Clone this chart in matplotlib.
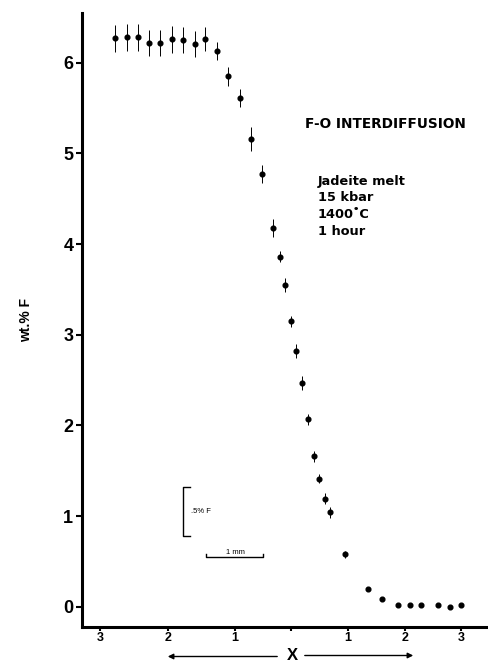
import numpy as np
import matplotlib
matplotlib.use("Agg")
from matplotlib import pyplot as plt

plt.rcParams['font.family'] = ['Liberation Sans', 'DejaVu Sans']

# distance from interface (mm)
x_mm = [-3.08, -2.88, -2.69, -2.49, -2.29, -2.09, -1.89, -1.69, -1.50, -1.30,
        -1.11, -0.90, -0.70, -0.51, -0.31, -0.20, -0.11, 0.00, 0.09, 0.19,
        0.29, 0.40, 0.49, 0.59, 0.69, 0.95, 1.35, 1.60, 1.87, 2.08,
        2.28, 2.57, 2.78, 2.98]
# wt.% F
wt_f = [6.27, 6.28, 6.28, 6.22, 6.22, 6.26, 6.25, 6.21, 6.26, 6.13,
        5.85, 5.61, 5.16, 4.77, 4.18, 3.86, 3.55, 3.15, 2.82, 2.47,
        2.07, 1.66, 1.41, 1.19, 1.04, 0.58, 0.20, 0.08, 0.02, 0.02,
        0.02, 0.02, 0.00, 0.02]
# error bars
err = [0.15, 0.15, 0.15, 0.14, 0.14, 0.15, 0.14, 0.14, 0.13, 0.10,
       0.10, 0.10, 0.13, 0.10, 0.10, 0.06, 0.08, 0.06, 0.08, 0.08,
       0.06, 0.06, 0.05, 0.06, 0.06, 0.04, 0.0, 0.0, 0.0, 0.0,
       0.0, 0.0, 0.0, 0.0]

tick_pos = [-3.35, -2.16, -0.98, 0, 0.99, 2.0, 2.98]
tick_lab = ['3', '2', '1', '', '1', '2', '3']

fig = plt.figure(figsize=(4.89, 6.63), dpi=100)
ax = fig.add_axes([0.167, 0.0548, 0.833, 0.9256])

ax.errorbar(x_mm, wt_f, yerr=err, fmt='o', color='black', ms=3.4,
            elinewidth=0.7, capsize=0)

ax.set_xlim(-3.67, 3.47)
ax.set_ylim(-0.22, 6.55)

for s in ['top', 'right']:
    ax.spines[s].set_visible(False)
ax.spines['left'].set_linewidth(2.2)
ax.spines['bottom'].set_linewidth(2.2)

ax.set_yticks(range(7))
ax.set_yticklabels([str(i) for i in range(7)], fontsize=13, fontweight='bold')
ax.tick_params(axis='y', direction='out', length=4, width=1.5, pad=2)
ax.set_xticks(tick_pos)
ax.set_xticklabels(tick_lab, fontsize=9, fontweight='bold')
ax.tick_params(axis='x', direction='out', length=3, width=1.5, pad=1)

ax.set_ylabel('wt.% F', fontsize=10, fontweight='bold', labelpad=22)

# annotation texts (wider face, as in the original)
wide = ['DejaVu Sans']
ax.text(0.25, 5.33, 'F-O INTERDIFFUSION', fontsize=9.8, fontweight='bold',
        va='center', family=wide)
for yy, s in zip([4.69, 4.52, 4.33, 4.14], ['Jadeite melt', '15 kbar', '1400\u02daC', '1 hour']):
    ax.text(0.47, yy, s, fontsize=9.3, fontweight='bold', va='center', family=wide)

# scale bars
ax.plot([-1.77, -1.90, -1.90, -1.77], [1.32, 1.32, 0.78, 0.78], color='black', lw=1)
ax.text(-1.76, 1.05, '.5% F', fontsize=5.5, va='center')
ax.plot([-1.49, -1.49, -0.49, -0.49], [0.58, 0.545, 0.545, 0.58], color='black', lw=1)
ax.text(-0.98, 0.565, '1 mm', fontsize=5.5, ha='center', va='bottom')

# X with arrows under the axis
fig.text(292 / 489, 8 / 663, 'X', fontsize=12, fontweight='bold', ha='center', va='center')
ax.annotate('', xy=(165, 6.5), xytext=(280, 6.5), xycoords='figure pixels',
            textcoords='figure pixels', arrowprops=dict(arrowstyle='-|>', color='black', lw=1,
                                                        mutation_scale=8))
ax.annotate('', xy=(416, 7.5), xytext=(302, 7.5), xycoords='figure pixels',
            textcoords='figure pixels', arrowprops=dict(arrowstyle='-|>', color='black', lw=1,
                                                        mutation_scale=8))

fig.savefig('out.png', dpi=100)
